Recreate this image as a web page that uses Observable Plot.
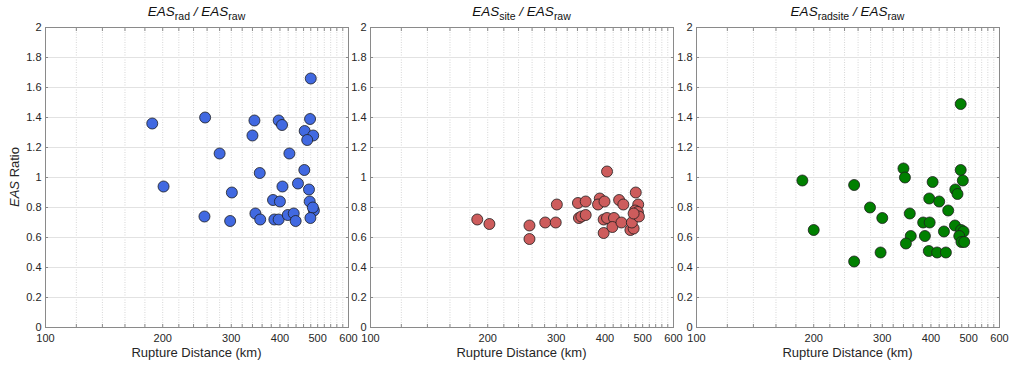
<!DOCTYPE html>
<html><head><meta charset="utf-8">
<script src="https://cdn.jsdelivr.net/npm/d3@7"></script>
<script src="https://cdn.jsdelivr.net/npm/@observablehq/plot@0.6"></script>
<style>
body{margin:0;background:#fff;}
#chart{position:relative;width:1010px;height:366px;font-family:"Liberation Sans",Arial,Helvetica,sans-serif;color:#262626;overflow:hidden;}
.panel{position:absolute;top:0;}
.title{position:absolute;top:5px;font-size:13.5px;line-height:14px;white-space:nowrap;transform:translateX(-50%);color:#111;}
.title sub{font-size:10.5px;line-height:0;vertical-align:-4px;}
.xlabel{position:absolute;top:346px;font-size:13px;line-height:13px;white-space:nowrap;transform:translateX(-50%);color:#262626;}
.ylabel{position:absolute;left:14px;top:177px;font-size:13px;line-height:13px;white-space:nowrap;transform:translate(-50%,-50%) rotate(-90deg);color:#262626;}
</style></head>
<body>
<div id="chart"></div>
<script>
// ---- data ----
const radDist  = [188,257,344,340,280,397,405,480,478,463,487,470,423,355,462,445,201,301,406,475,384,400,477,489,486,256,298,346,356,387,397,419,434,439,479];
const radRatio = [1.36,1.40,1.38,1.28,1.16,1.38,1.35,1.66,1.39,1.31,1.28,1.25,1.16,1.03,1.05,0.96,0.94,0.90,0.94,0.92,0.85,0.84,0.84,0.78,0.80,0.74,0.71,0.76,0.72,0.72,0.72,0.75,0.76,0.71,0.73];

const siteDist  = [405,188,202,256,256,281,299,301,341,357,343,348,357,388,384,399,397,405,422,397,418,435,446,441,465,474,469,480,487,478,486,489,474];
const siteRatio = [1.04,0.72,0.69,0.68,0.59,0.70,0.70,0.82,0.83,0.84,0.73,0.74,0.75,0.86,0.82,0.84,0.72,0.73,0.73,0.63,0.67,0.85,0.82,0.70,0.65,0.66,0.70,0.90,0.82,0.78,0.77,0.74,0.76];

const radsiteDist  = [477,340,343,477,187,254,404,483,462,468,396,420,443,279,300,353,382,397,461,200,355,386,432,478,485,473,479,487,345,297,395,415,437,254];
const radsiteRatio = [1.49,1.06,1.00,1.05,0.98,0.95,0.97,0.98,0.92,0.89,0.86,0.84,0.78,0.80,0.73,0.76,0.70,0.70,0.68,0.65,0.61,0.61,0.64,0.65,0.64,0.61,0.57,0.57,0.56,0.50,0.51,0.50,0.50,0.44];

const xTickLabels = [100,200,300,400,500,600];
const xMinorTicks = [100,120,140,160,180,200,220,240,260,280,300,320,340,360,380,400,420,440,460,480,500,520,540,560,580,600];
const yTicks = [0,0.2,0.4,0.6,0.8,1,1.2,1.4,1.6,1.8,2];
const yTickLabels = ["0","0.2","0.4","0.6","0.8","1","1.2","1.4","1.6","1.8","2"];

const panels = [
  {sub:"rad", dist:radDist, ratio:radRatio, fill:"#4169e1", left:0, width:360, ml:45, mr:12},
  {sub:"site", dist:siteDist, ratio:siteRatio, fill:"#cd5c5c", left:349, width:336, ml:21, mr:12},
  {sub:"radsite", dist:radsiteDist, ratio:radsiteRatio, fill:"#008000", left:675, width:335, ml:21, mr:11}
];

const chart = document.getElementById("chart");
const axisColor = "#8a8a8a";

panels.forEach((p, i) => {
  const data = p.dist.map((d, k) => ({d, r: p.ratio[k]}));
  const svg = Plot.plot({
    width: p.width, height: 366,
    marginLeft: p.ml, marginRight: p.mr, marginTop: 27, marginBottom: 39,
    style: {fontFamily: '"Liberation Sans",Arial,Helvetica,sans-serif', overflow: "visible", background: "transparent", color: "#262626"},
    x: {type: "log", domain: [100, 600]},
    y: {domain: [0, 2]},
    marks: [
      Plot.gridX(xMinorTicks, {stroke: "#d6d6d6", strokeOpacity: 1, strokeDasharray: "1,1.5"}),
      Plot.gridY(yTicks, {stroke: "#e2e2e2", strokeOpacity: 1}),
      Plot.dot(data, {x: "d", y: "r", r: 5.5, fill: p.fill, stroke: "#1e1e1e", strokeWidth: 0.8}),
      Plot.frame({stroke: axisColor}),
      Plot.axisX(xMinorTicks, {anchor: "bottom", tickSize: -3, tickFormat: () => "", stroke: axisColor, label: null}),
      Plot.axisX(xMinorTicks, {anchor: "top", tickSize: -3, tickFormat: () => "", stroke: axisColor, label: null}),
      Plot.axisX(xTickLabels, {anchor: "bottom", tickSize: 0, tickPadding: 7, fontSize: 11, tickFormat: d => String(d), label: null}),
      Plot.axisY(yTicks, {anchor: "left", tickSize: -3, tickFormat: () => "", stroke: axisColor, label: null}),
      Plot.axisY(yTicks, {anchor: "right", tickSize: -3, tickFormat: () => "", stroke: axisColor, label: null}),
      Plot.axisY(yTicks, {anchor: "left", tickSize: 0, tickPadding: 4, fontSize: 11, tickFormat: (d, k) => yTickLabels[k], label: null})
    ]
  });
  svg.classList.add("panel");
  svg.style.left = p.left + "px";
  chart.appendChild(svg);

  const cx = p.left + p.ml + (p.width - p.ml - p.mr) / 2;
  const t = document.createElement("div");
  t.className = "title";
  t.style.left = cx + "px";
  t.innerHTML = `<i>EAS</i><sub>${p.sub}</sub> <i>/</i> <i>EAS</i><sub>raw</sub>`;
  chart.appendChild(t);

  const xl = document.createElement("div");
  xl.className = "xlabel";
  xl.style.left = cx + "px";
  xl.textContent = "Rupture Distance (km)";
  chart.appendChild(xl);
});

const yl = document.createElement("div");
yl.className = "ylabel";
yl.innerHTML = "<i>EAS</i> Ratio";
chart.appendChild(yl);
</script>
</body></html>
